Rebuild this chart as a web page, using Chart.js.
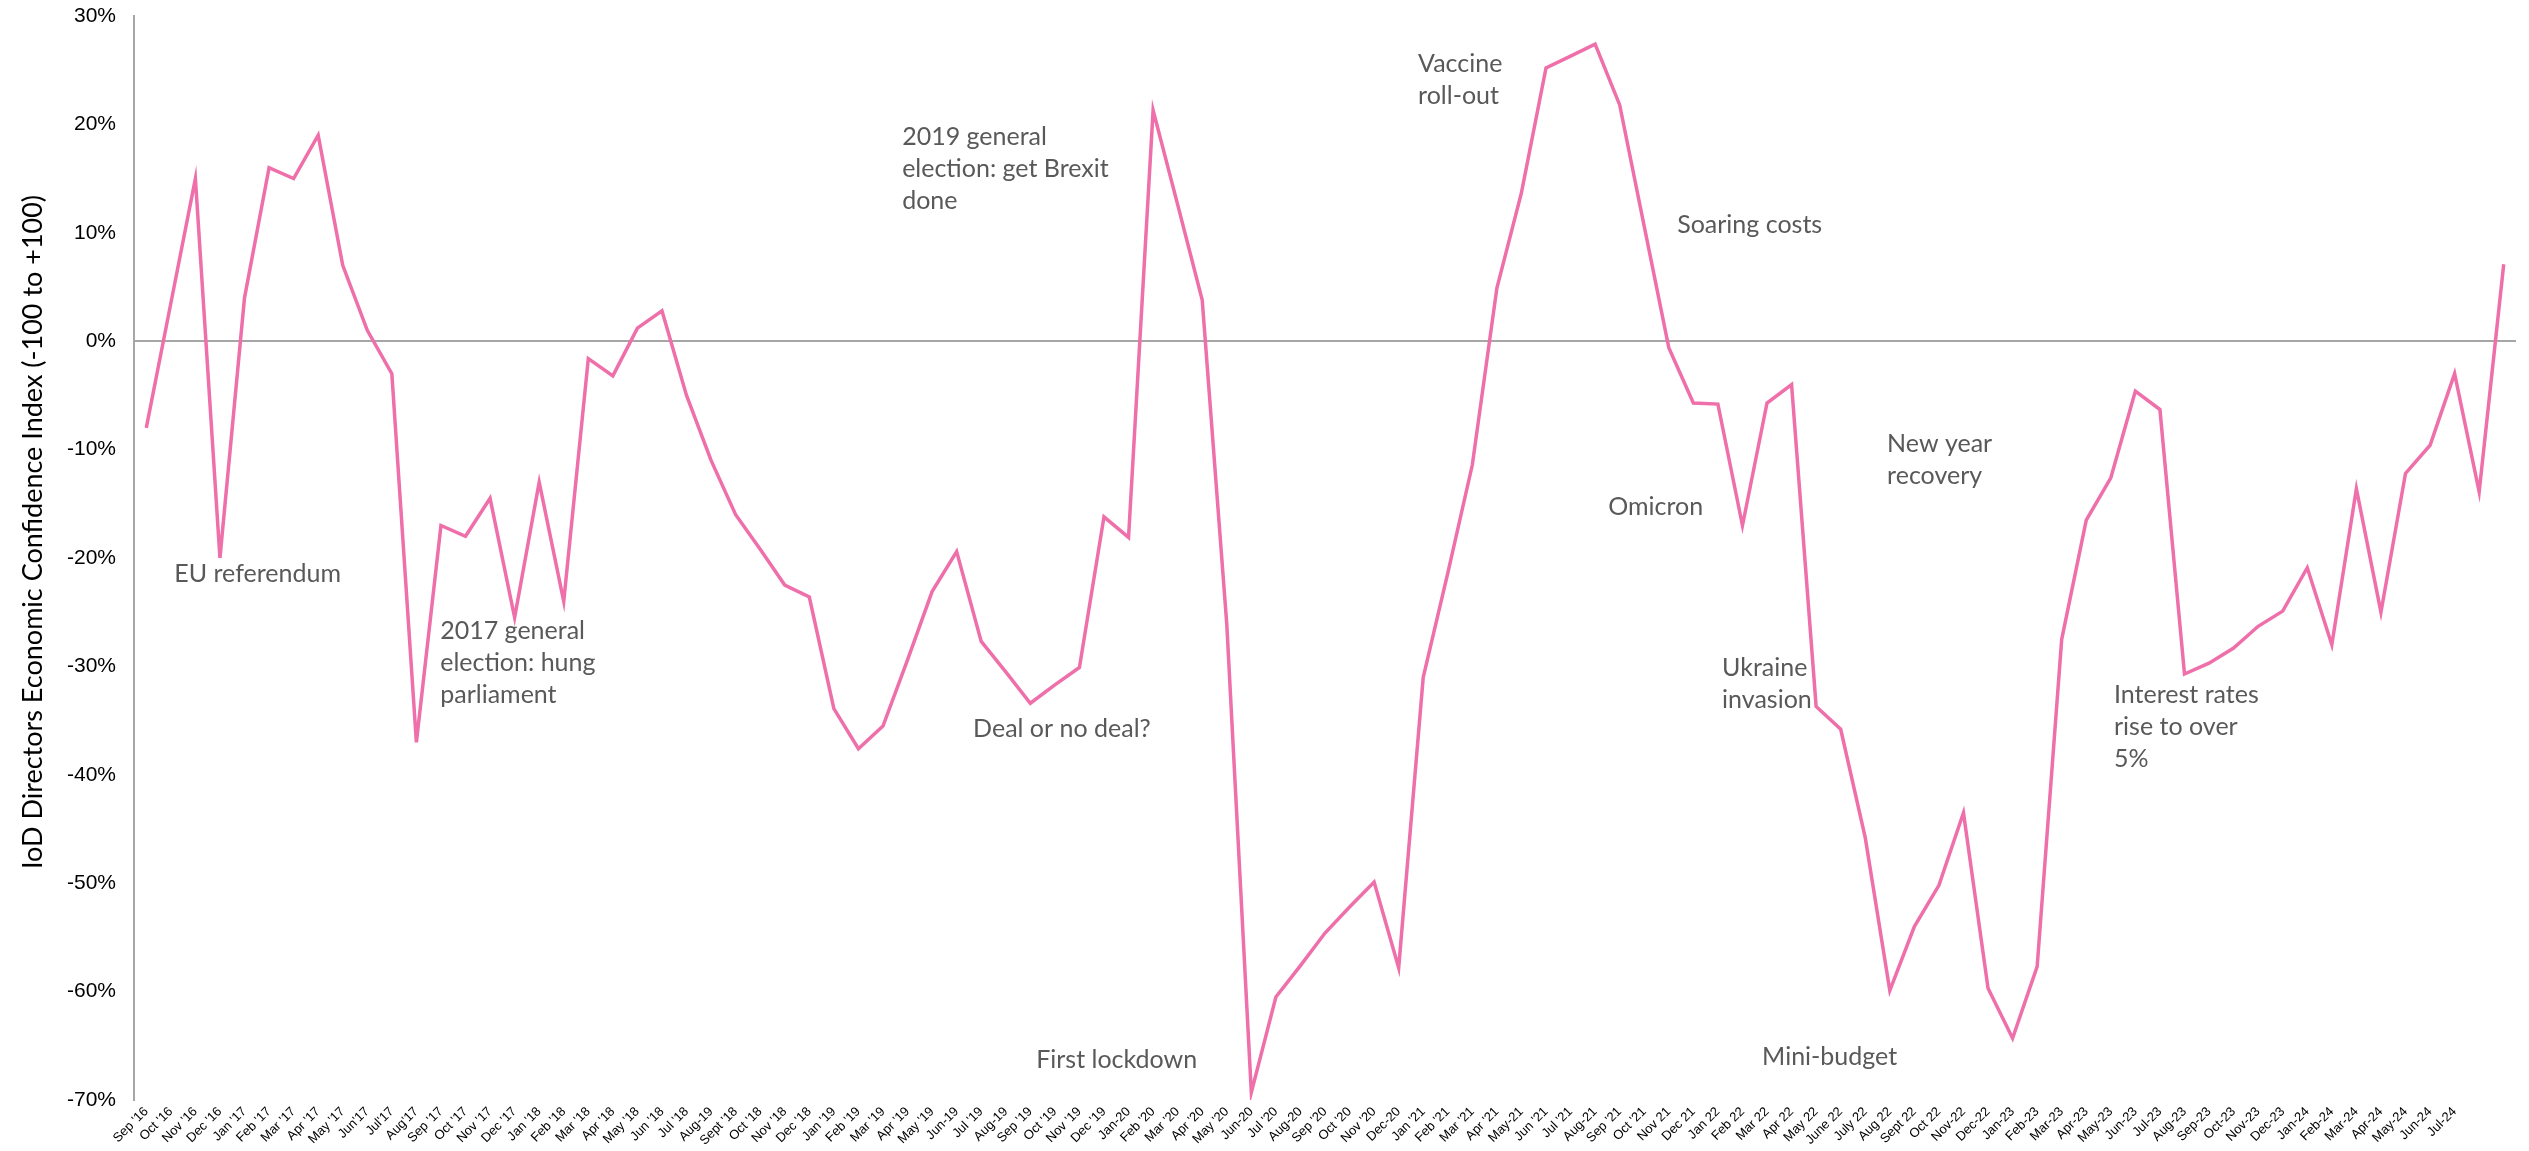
<!DOCTYPE html>
<html>
<head>
<meta charset="utf-8">
<title>IoD Directors Economic Confidence Index</title>
<script src="https://cdn.jsdelivr.net/npm/chart.js@4.4.1/dist/chart.umd.min.js"></script>
<style>
    body { margin: 0; background: #fff; }
    #wrap { width: 2529px; height: 1151px; }
</style>
</head>
<body>
<div id="wrap"><canvas id="myChart" width="2529" height="1151"></canvas></div>
<script>
// month labels (last two months have no label in the original)
const months = [
    "Sep '16", "Oct '16", "Nov '16", "Dec '16",
    "Jan '17", "Feb '17", "Mar '17", "Apr '17", "May '17", "Jun'17", "Jul'17", "Aug'17", "Sep '17", "Oct '17", "Nov '17", "Dec '17",
    "Jan '18", "Feb '18", "Mar '18", "Apr '18", "May '18", "Jun '18", "Jul '18", "Aug-19", "Sept '18", "Oct '18", "Nov '18", "Dec '18",
    "Jan '19", "Feb '19", "Mar '19", "Apr '19", "May '19", "Jun-19", "Jul '19", "Aug-19", "Sep '19", "Oct '19", "Nov '19", "Dec '19",
    "Jan-20", "Feb '20", "Mar '20", "Apr '20", "May '20", "Jun-20", "Jul '20", "Aug-20", "Sep '20", "Oct '20", "Nov '20", "Dec-20",
    "Jan '21", "Feb '21", "Mar '21", "Apr '21", "May-21", "Jun '21", "Jul '21", "Aug-21", "Sep '21", "Oct '21", "Nov 21", "Dec 21",
    "Jan 22", "Feb 22", "Mar 22", "Apr 22", "May 22", "June 22", "July 22", "Aug 22", "Sept 22", "Oct 22", "Nov-22", "Dec-22",
    "Jan-23", "Feb-23", "Mar-23", "Apr-23", "May-23", "Jun-23", "Jul-23", "Aug-23", "Sep-23", "Oct-23", "Nov-23", "Dec-23",
    "Jan-24", "Feb-24", "Mar-24", "Apr-24", "May-24", "Jun-24", "Jul-24", "", ""
];

// confidence index, %
const confidence = [
    -8, 3.5, 15, -20,
    4, 16, 15, 19, 7, 1, -3, -37, -17, -18, -14.5, -25.5,
    -13, -24, -1.6, -3.2, 1.2, 2.8, -5, -11, -16, -19.2, -22.5, -23.6,
    -33.9, -37.6, -35.5, -29.4, -23.1, -19.4, -27.7, -30.5, -33.4, -31.7, -30.1, -16.2,
    -18.1, 21.3, 12.6, 3.8, -26.1, -69.3, -60.5, -57.6, -54.6, -52.2, -49.9, -57.8,
    -31, -21.4, -11.4, 4.9, 13.7, 25.2, 26.3, 27.4, 21.8, 10.6, -0.6, -5.7,
    -5.8, -17, -5.7, -4, -33.7, -35.8, -45.8, -59.9, -54, -50.2, -43.5, -59.7,
    -64.3, -57.7, -27.5, -16.5, -12.6, -4.6, -6.3, -30.7, -29.7, -28.3, -26.3, -24.9,
    -20.9, -28, -13.6, -25, -12.2, -9.6, -3, -13.9, 7.1
];

// event notes: text lines, anchored at (month index, value) = left edge / first line
const noteText = [
    ["EU referendum"],
    ["2017 general", "election: hung", "parliament"],
    ["2019 general", "election: get Brexit", "done"],
    ["Deal or no deal?"],
    ["First lockdown"],
    ["Vaccine", "roll-out"],
    ["Soaring costs"],
    ["Omicron"],
    ["New year", "recovery"],
    ["Ukraine", "invasion"],
    ["Mini-budget"],
    ["Interest rates", "rise to over", "5%"]
];
const noteMonth = [1.14, 11.97, 30.78, 33.67, 36.24, 51.79, 62.34, 59.53, 70.89, 64.17, 65.8, 80.13];
const noteValue = [-21.5, -26.75, 18.8, -35.8, -66.3, 25.55, 10.7, -15.3, -9.5, -30.1, -66, -32.66];

const yTicks = [30, 20, 10, 0, -10, -20, -30, -40, -50, -60, -70];
const yTitle = 'IoD Directors Economic Confidence Index (-100 to +100)';

const notesPlugin = {
    id: 'notes',
    afterDatasetsDraw(chart) {
        const ctx = chart.ctx;
        const xs = chart.scales.x, ys = chart.scales.y;
        ctx.save();
        ctx.fillStyle = '#595959';
        ctx.font = '25px Lato';
        ctx.textAlign = 'left';
        ctx.textBaseline = 'middle';
        noteText.forEach((lines, i) => {
            const px = xs.getPixelForValue(noteMonth[i]);
            const py = ys.getPixelForValue(noteValue[i]);
            lines.forEach((t, j) => ctx.fillText(t, px, py + j * 32));
        });
        ctx.restore();

        // axis title, sits a little above the middle of the axis
        ctx.save();
        ctx.translate(33, ys.getPixelForValue(-17.6));
        ctx.rotate(-Math.PI / 2);
        ctx.fillStyle = '#000';
        ctx.font = '27px Lato';
        ctx.textAlign = 'center';
        ctx.textBaseline = 'middle';
        ctx.fillText(yTitle, 0, 0);
        ctx.restore();
    }
};

const data = {
    labels: months,
    datasets: [{
        label: 'IoD Directors Economic Confidence Index',
        data: confidence,
        borderColor: '#EE6FA9',
        borderWidth: 3.5,
        pointRadius: 0,
        tension: 0,
        fill: false
    }]
};

const config = {
    type: 'line',
    data,
    options: {
        responsive: false,
        animation: false,
        layout: { padding: { top: 0, right: 13, bottom: 0, left: 0 } },
        plugins: {
            legend: { display: false },
            tooltip: { enabled: false }
        },
        scales: {
            x: {
                offset: true,
                grid: { display: false, drawTicks: false },
                border: { display: false },
                ticks: {
                    autoSkip: false,
                    minRotation: 45,
                    maxRotation: 45,
                    padding: 4,
                    color: '#000',
                    font: { family: 'Liberation Sans', size: 13 }
                },
                afterFit(scale) { scale.height = 51; }
            },
            y: {
                min: -70,
                max: 30,
                afterBuildTicks(scale) { scale.ticks = yTicks.map(v => ({ value: v })); },
                grid: {
                    drawTicks: false,
                    color: c => (c.tick && c.tick.value === 0) ? '#A6A6A6' : 'rgba(0,0,0,0)',
                    lineWidth: 2
                },
                border: { display: true, color: '#A6A6A6', width: 2 },
                ticks: {
                    padding: 18,
                    color: '#000',
                    font: { family: 'Liberation Sans', size: 21 },
                    callback: v => v + '%'
                },
                afterFit(scale) {
                    scale.width = 134;
                    // tick padding would otherwise push the plot top down
                    scale.paddingTop = 16;
                    scale.paddingBottom = 16;
                }
            }
        }
    },
    plugins: [notesPlugin]
};

// render init block
const myChart = new Chart(
    document.getElementById('myChart'),
    config
);
</script>
</body>
</html>
